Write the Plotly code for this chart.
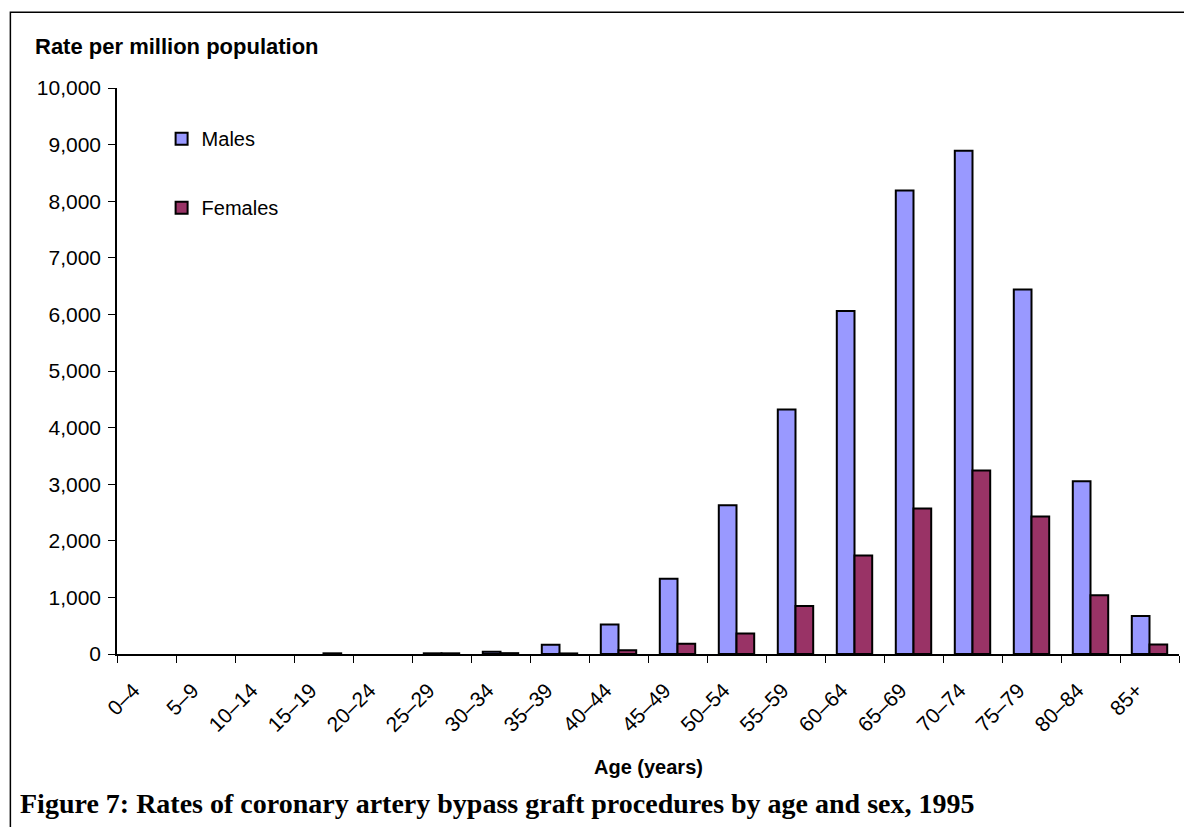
import plotly.graph_objects as go

age_groups = ["0–4", "5–9", "10–14", "15–19", "20–24", "25–29", "30–34", "35–39",
              "40–44", "45–49", "50–54", "55–59", "60–64", "65–69", "70–74",
              "75–79", "80–84", "85+"]
males = [0, 0, 0, 0, 0, 12, 40, 165, 520, 1330, 2630, 4320, 6060, 8190, 8890, 6440, 3050, 670]
females = [0, 0, 0, 12, 0, 12, 15, 10, 65, 180, 360, 850, 1740, 2570, 3240, 2430, 1040, 170]

series = [("Males", males, "#9999FF"), ("Females", females, "#993366")]

fig = go.Figure()
for name, values, color in series:
    # zero-height bars get no outline, as in the original
    widths = [2 if v > 0 else 0 for v in values]
    fig.add_trace(go.Bar(
        x=age_groups, y=values, name=name, offsetgroup=name, showlegend=False,
        marker=dict(color=color, line=dict(color="#000000", width=widths)),
    ))
    # empty twin only for the legend swatch (keeps the black outline)
    fig.add_trace(go.Bar(
        x=age_groups[:1], y=[None], name=name, offsetgroup=name, legendgroup=name,
        marker=dict(color=color, line=dict(color="#000000", width=2)),
        hoverinfo="skip",
    ))

# outer frame round the whole figure (extends past the bottom/right edge)
fig.add_shape(type="rect", xref="paper", yref="paper",
              x0=-0.1004, x1=1.05, y0=-0.4, y1=1.1337,
              line=dict(color="#000000", width=1.5), fillcolor="rgba(0,0,0,0)")

fig.add_annotation(text="<b>Rate per million population</b>", xref="paper", yref="paper",
                   x=-0.079, y=1.073, xanchor="left", yanchor="middle", showarrow=False,
                   font=dict(family="Liberation Sans, Arial", size=22, color="#000000"))
fig.add_annotation(text="<b>Age (years)</b>", xref="paper", yref="paper",
                   x=0.5, y=-0.199, xanchor="center", yanchor="middle", showarrow=False,
                   font=dict(family="Liberation Sans, Arial", size=20, color="#000000"))
fig.add_annotation(text="<b>Figure 7: Rates of coronary artery bypass graft procedures by age and sex, 1995</b>",
                   xref="paper", yref="paper", x=-0.093, y=-0.2635, xanchor="left", yanchor="middle",
                   showarrow=False,
                   font=dict(family="Liberation Serif, Times New Roman", size=28, color="#000000"))

fig.update_layout(
    width=1184, height=827,
    margin=dict(l=117, r=5, t=88, b=173),
    plot_bgcolor="white", paper_bgcolor="white",
    barmode="group", bargap=0.4, bargroupgap=0,
    font=dict(family="Liberation Sans, Arial", size=20, color="#000000"),
    showlegend=True,
    legend=dict(x=0.042, y=0.945, xanchor="left", yanchor="top", bgcolor="rgba(0,0,0,0)",
                tracegroupgap=40, font=dict(size=20), itemwidth=30),
    xaxis=dict(
        type="category", showline=True, linecolor="#000000", linewidth=1.5,
        ticks="outside", tickson="boundaries", ticklen=7, tickcolor="#000000",
        tickangle=-45, ticklabelshift=-13, ticklabelstandoff=14, showgrid=False,
        tickfont=dict(size=21),
    ),
    yaxis=dict(
        range=[0, 10000], tick0=0, dtick=1000, tickformat=",",
        showline=True, linecolor="#000000", linewidth=1.5,
        ticks="outside", ticklen=7, tickcolor="#000000", showgrid=False,
        ticklabelstandoff=3, zeroline=False, tickfont=dict(size=21),
    ),
)

fig.write_html("out.html", config={"displayModeBar": False},
               post_script="document.body.style.margin='0';")
